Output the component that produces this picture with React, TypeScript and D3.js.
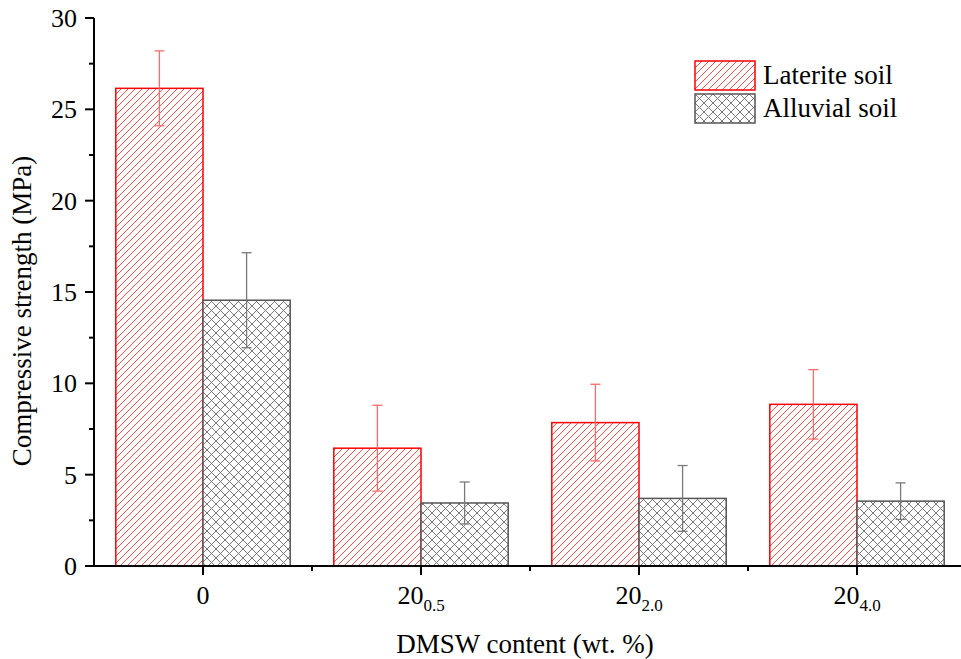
import React from "react";
import * as d3 from "d3";

const categories = ["0", "20_0.5", "20_2.0", "20_4.0"];
const tickMain = ["0", "20", "20", "20"];
const tickSub = ["", "0.5", "2.0", "4.0"];
const series = ["Laterite soil", "Alluvial soil"];
const lateriteMean = [26.15, 6.45, 7.85, 8.85];
const lateriteErr = [2.05, 2.35, 2.1, 1.9];
const alluvialMean = [14.55, 3.45, 3.7, 3.55];
const alluvialErr = [2.6, 1.15, 1.8, 1.0];
const yTicks = [0, 5, 10, 15, 20, 25, 30];

const W = 961;
const H = 659;
const M = { left: 94, right: 966, top: 18, bottom: 566 };
const FONT = "Liberation Serif, Times New Roman, DejaVu Serif, serif";
const txt = { fontFamily: FONT };

export default function App() {
  const x = d3.scaleBand<string>().domain(categories).range([M.left, M.right]).paddingInner(0.2).paddingOuter(0.1);
  const y = d3.scaleLinear().domain([0, 30]).range([M.bottom, M.top]);
  const band = M.right - M.left;
  const step = band / categories.length;
  const inner = d3.scaleBand<string>().domain(series).range([0, step * 0.8]);

  const data = categories.map((c, i) => ({
    c,
    vals: [
      { s: series[0], v: lateriteMean[i], e: lateriteErr[i] },
      { s: series[1], v: alluvialMean[i], e: alluvialErr[i] },
    ],
  }));

  const minorY = d3.range(2.5, 30, 5);
  const boundaries = d3.range(1, categories.length).map((k) => M.left + k * step);

  const fills = ["url(#hatchRed)", "url(#hatchGray)"];
  const strokes = ["#ff0000", "#555555"];
  const errColors = ["#ff6a6a", "#7a7a7a"];

  return (
    <svg width={W} height={H} style={{ position: "absolute", left: 0, top: 0, background: "#fff" }}>
      <defs>
        <pattern id="hatchRed" patternUnits="userSpaceOnUse" width={7} height={7}>
          <path d="M-1,8 L8,-1 M-2,2 L2,-2 M5,9 L9,5" stroke="#ff3b3b" strokeWidth={0.9} />
        </pattern>
        <pattern id="hatchGray" patternUnits="userSpaceOnUse" width={9} height={9}>
          <path d="M-1,10 L10,-1 M-2,2 L2,-2 M7,11 L11,7 M-1,-1 L10,10 M-2,7 L2,11 M7,-2 L11,2" stroke="#6a6a6a" strokeWidth={0.9} />
        </pattern>
      </defs>
      <rect width={W} height={H} fill="#fff" />

      {data.map((d) =>
        d.vals.map((v, j) => {
          const x0 = (x(d.c) as number) + (inner(v.s) as number);
          const bw = inner.bandwidth();
          const cx = x0 + bw / 2;
          return (
            <g key={d.c + v.s}>
              <rect x={x0} y={y(v.v)} width={bw} height={y(0) - y(v.v)} fill="#fff" />
              <rect x={x0} y={y(v.v)} width={bw} height={y(0) - y(v.v)} fill={fills[j]} stroke={strokes[j]} strokeWidth={1.5} />
              <g stroke={errColors[j]} strokeWidth={1.3}>
                <line x1={cx} x2={cx} y1={y(v.v + v.e)} y2={y(v.v - v.e)} />
                <line x1={cx - 5} x2={cx + 5} y1={y(v.v + v.e)} y2={y(v.v + v.e)} />
                <line x1={cx - 5} x2={cx + 5} y1={y(v.v - v.e)} y2={y(v.v - v.e)} />
              </g>
            </g>
          );
        })
      )}

      {/* y axis */}
      <line x1={M.left} x2={M.left} y1={M.top} y2={M.bottom} stroke="#000" strokeWidth={2} />
      {yTicks.map((t) => (
        <g key={t}>
          <line x1={M.left - 9} x2={M.left} y1={y(t)} y2={y(t)} stroke="#000" strokeWidth={2} />
          <text x={M.left - 17} y={y(t)} dy="0.35em" textAnchor="end" style={txt} fontSize={26}>
            {t}
          </text>
        </g>
      ))}
      {minorY.map((t) => (
        <line key={t} x1={M.left - 5} x2={M.left} y1={y(t)} y2={y(t)} stroke="#000" strokeWidth={2} />
      ))}

      {/* x axis */}
      <line x1={M.left - 1} x2={W} y1={M.bottom} y2={M.bottom} stroke="#000" strokeWidth={2} />
      {categories.map((c, i) => {
        const cx = (x(c) as number) + x.bandwidth() / 2;
        return (
          <g key={c}>
            <line x1={cx} x2={cx} y1={M.bottom} y2={M.bottom + 9} stroke="#000" strokeWidth={2} />
            <text x={cx} y={604} textAnchor="middle" style={txt} fontSize={26}>
              {tickMain[i]}
              {tickSub[i] && (
                <tspan fontSize={17} dy={7}>
                  {tickSub[i]}
                </tspan>
              )}
            </text>
          </g>
        );
      })}
      {boundaries.map((bx) => (
        <line key={bx} x1={bx} x2={bx} y1={M.bottom} y2={M.bottom + 5} stroke="#000" strokeWidth={2} />
      ))}

      <text x={525} y={653} textAnchor="middle" style={txt} fontSize={27}>
        DMSW content (wt. %)
      </text>
      <text transform={`translate(31,311) rotate(-90)`} textAnchor="middle" style={txt} fontSize={27}>
        Compressive strength (MPa)
      </text>

      {/* legend */}
      {series.map((s, j) => (
        <g key={s} transform={`translate(695,${61 + j * 33})`}>
          <rect width={60} height={29} fill="#fff" />
          <rect width={60} height={29} fill={fills[j]} stroke={strokes[j]} strokeWidth={1.5} />
          <text x={68} y={23} style={txt} fontSize={27}>
            {s}
          </text>
        </g>
      ))}
    </svg>
  );
}
